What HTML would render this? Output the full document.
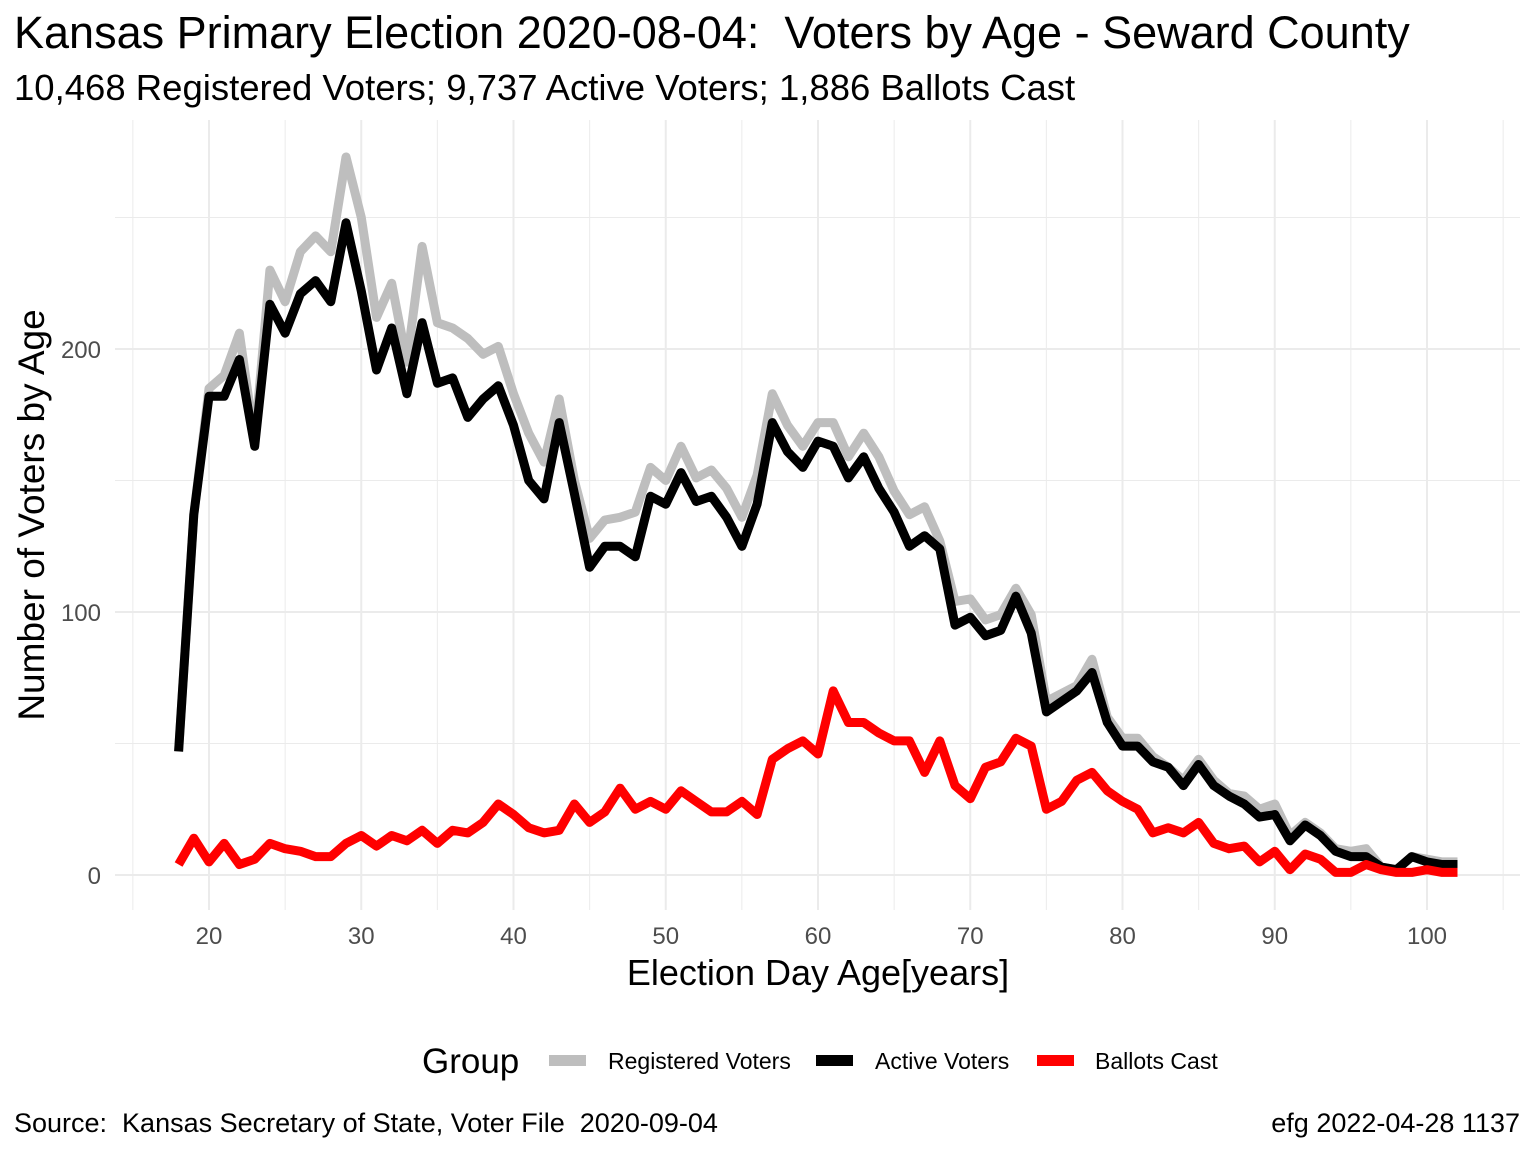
<!DOCTYPE html>
<html><head><meta charset="utf-8"><style>
body{margin:0;background:#fff;}
svg{display:block;font-family:"Liberation Sans",sans-serif;}
text{white-space:pre;}
</style></head><body>
<svg id="chart" width="1536" height="1152">
<text x="14" y="48" font-size="45" fill="#000">Kansas Primary Election 2020-08-04:  Voters by Age - Seward County</text>
<text x="14" y="100" font-size="36.5" fill="#000">10,468 Registered Voters; 9,737 Active Voters; 1,886 Ballots Cast</text>
<g id="grid"></g>
<g id="ticks"></g>
<g id="lines"></g>
<text transform="translate(44,515) rotate(-90)" text-anchor="middle" font-size="37">Number of Voters by Age</text>
<text x="818" y="985" text-anchor="middle" font-size="36">Election Day Age[years]</text>
<g>
<text x="422" y="1073" font-size="35">Group</text>
<rect x="549" y="1055" width="37" height="11" fill="#bebebe"/>
<text x="608" y="1069" font-size="23">Registered Voters</text>
<rect x="816" y="1055" width="37" height="11" fill="#000"/>
<text x="875" y="1069" font-size="23">Active Voters</text>
<rect x="1037" y="1055" width="37" height="11" fill="#ff0000"/>
<text x="1095" y="1069" font-size="23">Ballots Cast</text>
</g>
<text x="14" y="1132" font-size="27">Source:  Kansas Secretary of State, Voter File  2020-09-04</text>
<text x="1520" y="1132" font-size="27" text-anchor="end">efg 2022-04-28 1137</text>
</svg>
<script>
const ages = [];
for (let a = 18; a <= 102; a++) ages.push(a);
const registered = [47,137,185,190,206,165,230,218,237,243,237,273,250,212,225,195,239,210,208,204,198,201,183,168,157,181,150,128,135,136,138,155,150,163,151,154,147,136,152,183,171,163,172,172,159,168,159,146,137,140,127,104,105,97,99,109,99,66,69,72,82,60,52,52,45,41,36,44,36,31,30,25,27,15,20,16,10,9,10,3,2,7,6,5,5];
const active = [47,137,182,182,196,163,217,206,221,226,218,248,222,192,208,183,210,187,189,174,181,186,171,150,143,172,145,117,125,125,121,144,141,153,142,144,136,125,141,172,161,155,165,163,151,159,147,138,125,129,124,95,98,91,93,106,92,62,66,70,77,58,49,49,43,41,34,42,34,30,27,22,23,13,19,15,9,7,7,3,2,7,5,4,4];
const ballots = [4,14,5,12,4,6,12,10,9,7,7,12,15,11,15,13,17,12,17,16,20,27,23,18,16,17,27,20,24,33,25,28,25,32,28,24,24,28,23,44,48,51,46,70,58,58,54,51,51,39,51,34,29,41,43,52,49,25,28,36,39,32,28,25,16,18,16,20,12,10,11,5,9,2,8,6,1,1,4,2,1,1,2,1,1];
const xTicks = [20,30,40,50,60,70,80,90,100];
const yTicks = [0,100,200];

const X = v => 209 + (v - 20) * 15.225;
const Y = v => 875 - v * 2.63;
const NS = "http://www.w3.org/2000/svg";
function mk(tag, parent, attrs){const e=document.createElementNS(NS,tag);for(const k in attrs)e.setAttribute(k,attrs[k]);parent.appendChild(e);return e;}
const grid=document.getElementById('grid'), ticks=document.getElementById('ticks'), lines=document.getElementById('lines');
const L=115,R=1520,T=120,B=910;
for (let v=15; v<=105; v+=5){
  const l=mk('line',grid,{x1:X(v),x2:X(v),y1:T,y2:B,stroke:'#ebebeb','stroke-width':v%10===0?2:1});
  
  
}
for (let v=0; v<=250; v+=50){
  const l=mk('line',grid,{x1:L,x2:R,y1:Y(v),y2:Y(v),stroke:'#ebebeb','stroke-width':v%100===0?2:1});
  
  
}
xTicks.forEach(v=>{
  const t=mk('text',ticks,{x:X(v),y:944,'text-anchor':'middle','font-size':24,fill:'#4d4d4d'});
  t.textContent=v;
  
  
});
yTicks.forEach(v=>{
  const t=mk('text',ticks,{x:101,y:Y(v)+9,'text-anchor':'end','font-size':24,fill:'#4d4d4d'});
  t.textContent=v;
  
  
});
function series(vals,color,name){
  const d=vals.map((v,i)=>(i?'L':'M')+X(ages[i]).toFixed(1)+','+Y(v).toFixed(1)).join('');
  const p=mk('path',lines,{d:d,fill:'none',stroke:color,'stroke-width':9,'stroke-linejoin':'round'});
  
  
}
series(registered,'#bebebe','registered-voters-line');
series(active,'#000000','active-voters-line');
series(ballots,'#ff0000','ballots-cast-line');
</script>
</body></html>
